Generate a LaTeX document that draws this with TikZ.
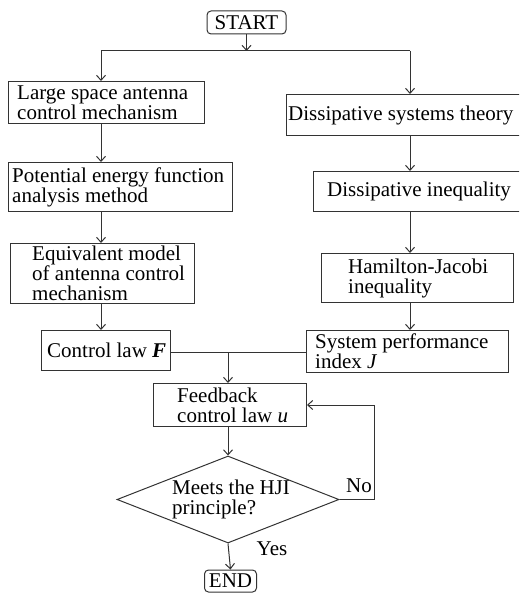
\documentclass[tikz,border=0pt]{standalone}
\usepackage{fontspec}
\setmainfont{Liberation Serif}
\usetikzlibrary{arrows.meta,shapes.geometric}
\begin{document}
\begin{tikzpicture}[x=1pt,y=-1pt,
  box/.style={draw=black!80, rectangle, inner sep=0pt, anchor=north west, line width=1pt},
  txt/.style={font=\fontsize{21}{20}\selectfont, align=left, inner sep=0pt, anchor=west, text=black},
  arr/.style={draw=black!80, line width=1pt, -{Straight Barb[length=5pt,width=9pt]}},
  ln/.style={draw=black!80, line width=1pt}]
\useasboundingbox (0,0) rectangle (519,593);
\clip (0,0) rectangle (519,593);
% column coordinates
\coordinate (lx) at (101,0);
\coordinate (rx) at (410,0);
\coordinate (cx) at (228,0);
% start
\node[box, rounded corners=4pt, minimum width=79pt, minimum height=23pt, anchor=center,
      font=\fontsize{21}{20}\selectfont] (S) at (246.5,22.5) {START};
% left column
\node[box, minimum width=196pt, minimum height=42pt] (L1) at (8,81) {};
\node[txt] (L1t) at ([xshift=9pt]L1.west) {Large space antenna\\control mechanism};
\node[box, minimum width=224pt, minimum height=49pt] (L2) at (8,162) {};
\node[txt] (L2t) at ([xshift=4pt]L2.west) {Potential energy function\\analysis method};
\node[box, minimum width=184pt, minimum height=60pt] (L3) at (10,243) {};
\node[txt] (L3t) at ([xshift=22pt]L3.west) {Equivalent model\\of antenna control\\mechanism};
\node[box, minimum width=129pt, minimum height=40pt] (L4) at (41,330) {};
\node[txt] (L4t) at ([xshift=6pt]L4.west) {Control law \textbf{\textit{F}}};
% right column
\node[box, minimum width=240pt, minimum height=41pt] (R1) at (286,94) {};
\node[txt] (R1t) at ([xshift=2pt]R1.west) {Dissipative systems theory};
\node[box, minimum width=215pt, minimum height=40pt] (R2) at (313,171) {};
\node[txt] (R2t) at ([xshift=14pt]R2.west) {Dissipative inequality};
\node[box, minimum width=192pt, minimum height=49pt] (R3) at (321,253) {};
\node[txt] (R3t) at ([xshift=27pt]R3.west) {Hamilton-Jacobi\\inequality};
\node[box, minimum width=202pt, minimum height=42pt] (R4) at (306,330) {};
\node[txt] (R4t) at ([xshift=9pt]R4.west) {System performance\\index \textit{J}};
% centre
\node[box, minimum width=153pt, minimum height=43pt] (FB) at (153,383) {};
\node[txt] (FBt) at ([xshift=24pt]FB.west) {Feedback\\control law \textit{u}};
\node[draw=black!80, line width=1pt, diamond, inner sep=0pt, minimum width=222pt, minimum height=87pt] (D) at (228,499.5) {};
\node[txt, anchor=center] (Dt) at (231,499) {Meets the HJI\\principle?};
\node[box, rounded corners=4pt, minimum width=52pt, minimum height=22pt, anchor=north west,
      font=\fontsize{21}{20}\selectfont] (E) at (204,569.5) {END};
% connectors
\coordinate (j1) at (246.5,51);
\draw[arr] (S.south) -- (j1);
\draw[ln] (j1 -| lx) -- (j1 -| rx);
\draw[arr] (j1 -| lx) -- (L1.north -| lx);
\draw[arr] (j1 -| rx) -- (R1.north -| rx);
\draw[arr] (L1.south -| lx) -- (L2.north -| lx);
\draw[arr] (L2.south -| lx) -- (L3.north -| lx);
\draw[arr] (L3.south -| lx) -- (L4.north -| lx);
\draw[arr] (R1.south -| rx) -- (R2.north -| rx);
\draw[arr] (R2.south -| rx) -- (R3.north -| rx);
\draw[arr] (R3.south -| rx) -- (R4.north -| rx);
\coordinate (j2) at (228,352);
\draw[ln] (L4.east |- j2) -- (R4.west |- j2);
\draw[arr] (j2) -- (FB.north -| cx);
\draw[arr] (FB.south -| cx) -- (D.north);
\draw[arr] (D.east) -- ++(35,0) |- (FB.east);
\node[txt, anchor=center] (no) at (359,486) {No};
\draw[arr] (D.south) -- (E.north);
\node[txt, anchor=center] (yes) at (272,549) {Yes};
\end{tikzpicture}
\end{document}
